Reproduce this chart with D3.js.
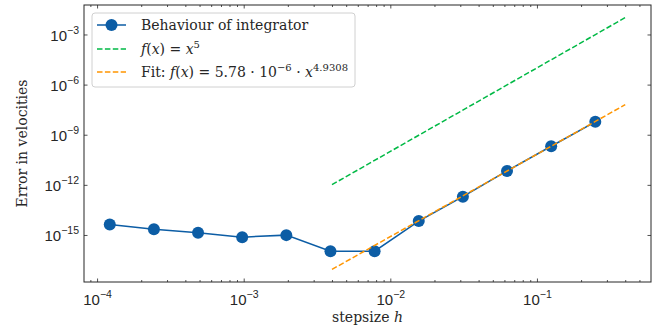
<!DOCTYPE html>
<html>
<head>
<meta charset="utf-8">
<script src="https://cdn.jsdelivr.net/npm/d3@7"></script>
<style>
  body { margin: 0; background: #fff; }
  svg { display: block; font-family: "DejaVu Serif", "Liberation Serif", serif; }
</style>
</head>
<body>
<script>
// integrator error vs step size (log-log)
var stepsizes = [1.2207e-4, 2.4414e-4, 4.8828e-4, 9.7656e-4, 1.9531e-3, 3.9063e-3,
                 7.8125e-3, 1.5625e-2, 3.125e-2, 6.25e-2, 0.125, 0.25];
var errors = [4.3e-15, 2.2e-15, 1.35e-15, 7.4e-16, 9.8e-16, 1.07e-16,
              1.07e-16, 6.8e-15, 1.95e-13, 6.8e-12, 2.05e-10, 5.9e-9];
var refX = [0.004, 0.4];
var refY = [1.024e-12, 1.024e-2];      // f(x) = x^5
var fitY = [8.7e-18, 6.3e-8];          // fit line
var xTicks = [1e-4, 1e-3, 1e-2, 1e-1];
var xTickExp = ["\u22124", "\u22123", "\u22122", "\u22121"];
var yTicks = [1e-3, 1e-6, 1e-9, 1e-12, 1e-15];
var yTickExp = ["\u22123", "\u22126", "\u22129", "\u221212", "\u221215"];

var W = 662, H = 329;
var margin = {left: 84, right: 11, top: 5, bottom: 47};
var iw = W - margin.left - margin.right, ih = H - margin.top - margin.bottom;

var blue = "#0C5DA5", green = "#00B945", orange = "#FF9500", ink = "#262626";
var fs = 14, fsTick = 15, fsSup = 10.5;

function padLog(lo, hi) {
  var a = Math.log10(lo), b = Math.log10(hi), p = (b - a) * 0.05;
  return [Math.pow(10, a - p), Math.pow(10, b + p)];
}
var allX = stepsizes.concat(refX), allY = errors.concat(refY, fitY);
var x = d3.scaleLog().domain(padLog(d3.min(allX), d3.max(allX))).range([0, iw]);
var y = d3.scaleLog().domain(padLog(d3.min(allY), d3.max(allY))).range([ih, 0]);

var svg = d3.select("body").append("svg").attr("width", W).attr("height", H);
var g = svg.append("g").attr("transform", "translate(" + margin.left + "," + margin.top + ")");

g.append("clipPath").attr("id", "clip").append("rect").attr("width", iw).attr("height", ih);
var plot = g.append("g").attr("clip-path", "url(#clip)");

// minor x ticks
var minorX = [];
for (var e = -5; e <= 0; e++) {
  for (var k = 2; k <= 9; k++) {
    var v = k * Math.pow(10, e);
    if (v > x.domain()[0] && v < x.domain()[1]) minorX.push(v);
  }
}

function styleAxis(sel) {
  sel.select(".domain").remove();
  sel.selectAll("line").attr("stroke", ink).attr("stroke-width", 0.8);
  sel.selectAll("text").remove();
}
function minorAxis(axis, vals) {
  return axis.tickValues(vals).tickSize(-2).tickSizeOuter(0).tickFormat("");
}

g.append("g").attr("transform", "translate(0," + ih + ")")
  .call(minorAxis(d3.axisBottom(x), minorX)).call(styleAxis);
g.append("g").call(minorAxis(d3.axisTop(x), minorX)).call(styleAxis);

var xb = g.append("g").attr("transform", "translate(0," + ih + ")")
  .call(d3.axisBottom(x).tickValues(xTicks).tickSize(-3.5).tickSizeOuter(0).tickFormat(""))
  .call(styleAxis);
g.append("g").call(d3.axisTop(x).tickValues(xTicks).tickSize(-3.5).tickSizeOuter(0).tickFormat("")).call(styleAxis);
var yl = g.append("g")
  .call(d3.axisLeft(y).tickValues(yTicks).tickSize(-3.5).tickSizeOuter(0).tickFormat(""))
  .call(styleAxis);
g.append("g").attr("transform", "translate(" + iw + ",0)")
  .call(d3.axisRight(y).tickValues(yTicks).tickSize(-3.5).tickSizeOuter(0).tickFormat(""))
  .call(styleAxis);

// tick labels with superscripts
function powLabel(sel, exp) {
  sel.append("tspan").text("10");
  sel.append("tspan").attr("dy", -7).attr("font-size", fsSup).text(exp);
}
xb.selectAll(".tick").each(function(d, i) {
  var t = d3.select(this).append("text").attr("y", 23).attr("text-anchor", "middle")
    .attr("fill", ink).attr("font-size", fsTick);
  powLabel(t, xTickExp[i]);
});
yl.selectAll(".tick").each(function(d, i) {
  var t = d3.select(this).append("text").attr("x", -5).attr("y", 6).attr("text-anchor", "end")
    .attr("fill", ink).attr("font-size", fsTick);
  powLabel(t, yTickExp[i]);
});

// lines
var line = d3.line().x(function(d) { return x(d[0]); }).y(function(d) { return y(d[1]); });
plot.append("path").datum(d3.zip(stepsizes, errors)).attr("d", line)
  .attr("fill", "none").attr("stroke", blue).attr("stroke-width", 1.5);
plot.selectAll("circle").data(d3.zip(stepsizes, errors)).enter().append("circle")
  .attr("cx", function(d) { return x(d[0]); }).attr("cy", function(d) { return y(d[1]); })
  .attr("r", 6).attr("fill", blue);
plot.append("path").datum(d3.zip(refX, refY)).attr("d", line)
  .attr("fill", "none").attr("stroke", green).attr("stroke-width", 1.5).attr("stroke-dasharray", "5.5,2.4");
plot.append("path").datum(d3.zip(refX, fitY)).attr("d", line)
  .attr("fill", "none").attr("stroke", orange).attr("stroke-width", 1.5).attr("stroke-dasharray", "5.5,2.4");

// frame
g.append("rect").attr("width", iw).attr("height", ih)
  .attr("fill", "none").attr("stroke", ink).attr("stroke-width", 1);

// legend
var lg = g.append("g").attr("transform", "translate(8,8)");
lg.append("rect").attr("width", 263).attr("height", 74).attr("rx", 3)
  .attr("fill", "white").attr("fill-opacity", 0.8).attr("stroke", "#d0d0d0");
var rows = [12, 36, 59];
lg.append("line").attr("x1", 5).attr("x2", 34).attr("y1", rows[0]).attr("y2", rows[0])
  .attr("stroke", blue).attr("stroke-width", 1.5);
lg.append("circle").attr("cx", 19.5).attr("cy", rows[0]).attr("r", 6).attr("fill", blue);
lg.append("line").attr("x1", 5).attr("x2", 34).attr("y1", rows[1]).attr("y2", rows[1])
  .attr("stroke", green).attr("stroke-width", 1.5).attr("stroke-dasharray", "5.5,2.4");
lg.append("line").attr("x1", 5).attr("x2", 34).attr("y1", rows[2]).attr("y2", rows[2])
  .attr("stroke", orange).attr("stroke-width", 1.5).attr("stroke-dasharray", "5.5,2.4");

function legText(yy) {
  return lg.append("text").attr("x", 49).attr("y", yy + 5).attr("fill", ink).attr("font-size", fs);
}
legText(rows[0]).text("Behaviour of integrator");
var t2 = legText(rows[1]);
t2.append("tspan").attr("font-style", "italic").text("f");
t2.append("tspan").text("(");
t2.append("tspan").attr("font-style", "italic").text("x");
t2.append("tspan").text(") = ");
t2.append("tspan").attr("font-style", "italic").text("x");
t2.append("tspan").attr("dy", -6).attr("font-size", 10).text("5");
var t3 = legText(rows[2]);
t3.append("tspan").text("Fit: ");
t3.append("tspan").attr("font-style", "italic").text("f");
t3.append("tspan").text("(");
t3.append("tspan").attr("font-style", "italic").text("x");
t3.append("tspan").text(") = 5.78 \u00b7 10");
t3.append("tspan").attr("dy", -6).attr("font-size", 10).text("\u22126");
t3.append("tspan").attr("dy", 6).text(" \u00b7 ");
t3.append("tspan").attr("font-style", "italic").text("x");
t3.append("tspan").attr("dy", -6).attr("font-size", 10).text("4.9308");

// axis titles
var xt = svg.append("text").attr("x", margin.left + iw / 2).attr("y", 322)
  .attr("text-anchor", "middle").attr("fill", ink).attr("font-size", fs);
xt.append("tspan").text("stepsize ");
xt.append("tspan").attr("font-style", "italic").text("h");
svg.append("text").attr("transform", "translate(27," + (margin.top + ih / 2) + ") rotate(-90)")
  .attr("text-anchor", "middle").attr("fill", ink).attr("font-size", fs)
  .text("Error in velocities");
</script>
</body>
</html>
